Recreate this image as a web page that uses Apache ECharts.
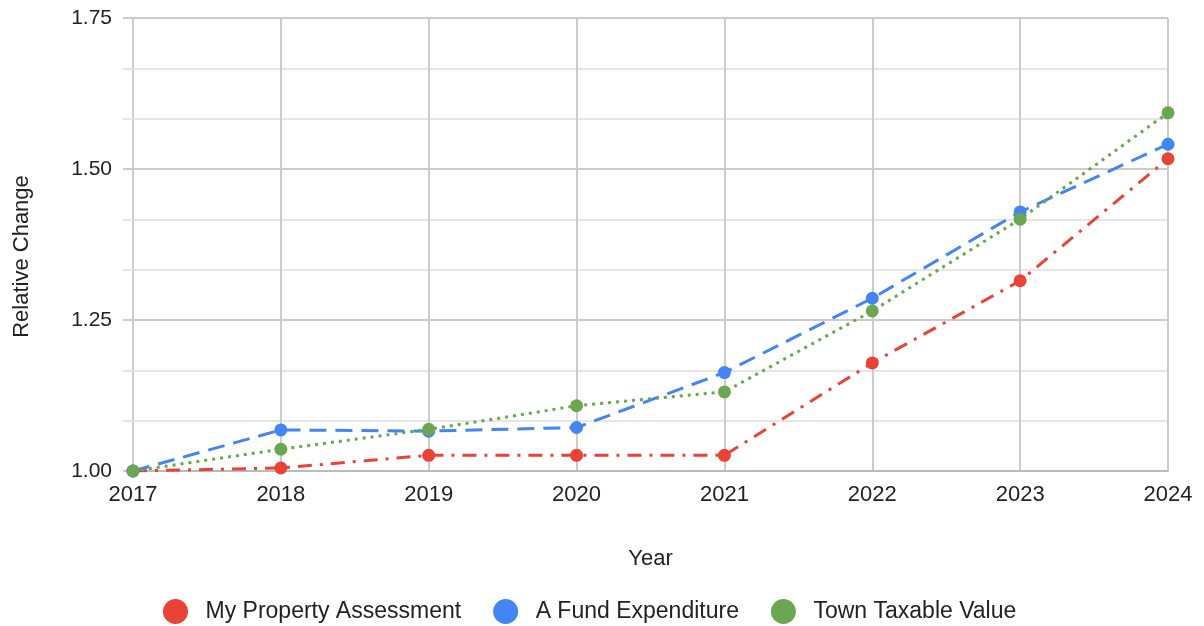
<!DOCTYPE html>
<html>
<head>
<meta charset="utf-8">
<script src="https://cdn.jsdelivr.net/npm/echarts@6/dist/echarts.min.js"></script>
<style>
  html, body { margin: 0; padding: 0; background: #fff; }
  #chart { width: 1204px; height: 626px; }
</style>
</head>
<body>
<div id="chart"></div>
<script>
var years = ['2017', '2018', '2019', '2020', '2021', '2022', '2023', '2024'];
var propertyAssessment = [1.00, 1.005, 1.026, 1.026, 1.026, 1.179, 1.315, 1.517];
var fundExpenditure = [1.00, 1.068, 1.066, 1.072, 1.163, 1.286, 1.429, 1.541];
var taxableValue = [1.00, 1.036, 1.069, 1.108, 1.131, 1.265, 1.417, 1.593];

var font = 'Liberation Sans, Arial, sans-serif';

function makeSeries(name, data, color, dash) {
  return {
    name: name,
    type: 'line',
    data: data,
    symbol: 'circle',
    symbolSize: 13,
    itemStyle: { color: color },
    lineStyle: { color: color, width: 3, type: dash },
    emphasis: { disabled: true }
  };
}

var chart = echarts.init(document.getElementById('chart'));

var option = {
  animation: false,
  grid: { left: 133, right: 36, top: 18, bottom: 155, outerBoundsMode: 'none', containLabel: false },
  legend: {
    bottom: -3,
    left: 158,
    icon: 'circle',
    itemWidth: 50,
    itemHeight: 25,
    itemGap: 32,
    textStyle: { fontFamily: font, fontSize: 23, color: '#222' },
    data: ['My Property Assessment', 'A Fund Expenditure', 'Town Taxable Value']
  },
  xAxis: {
    type: 'category',
    data: years,
    boundaryGap: false,
    name: 'Year',
    nameLocation: 'middle',
    nameGap: 77,
    nameTextStyle: { fontFamily: font, fontSize: 22, color: '#222' },
    axisLine: { lineStyle: { color: '#bbb', width: 2 } },
    axisTick: { show: false },
    axisLabel: { fontFamily: font, fontSize: 22, color: '#222', margin: 13 },
    splitLine: { show: true, lineStyle: { color: '#ccc', width: 2 } }
  },
  yAxis: {
    type: 'value',
    min: 1,
    max: 1.75,
    interval: 0.25,
    name: 'Relative Change',
    nameLocation: 'middle',
    nameGap: 100,
    nameTextStyle: { fontFamily: font, fontSize: 22, color: '#222', padding: [0, 24, 0, 0] },
    axisLine: { show: false },
    axisTick: { show: true, length: 10, lineStyle: { color: '#ccc', width: 2 } },
    minorTick: { show: true, splitNumber: 3, length: 10, lineStyle: { color: '#e6e6e6', width: 2 } },
    axisLabel: {
      fontFamily: font, fontSize: 21, color: '#222', margin: 21,
      formatter: function (v) { return v.toFixed(2); }
    },
    splitLine: { show: true, lineStyle: { color: '#ccc', width: 2 } },
    minorSplitLine: { show: true, lineStyle: { color: '#e6e6e6', width: 2 } }
  },
  series: [
    makeSeries('My Property Assessment', propertyAssessment, '#ea4335', [14, 8, 3, 8]),
    makeSeries('A Fund Expenditure', fundExpenditure, '#4285f4', [17, 9]),
    makeSeries('Town Taxable Value', taxableValue, '#6aa84f', [3, 5])
  ]
};

chart.setOption(option);
</script>
</body>
</html>
